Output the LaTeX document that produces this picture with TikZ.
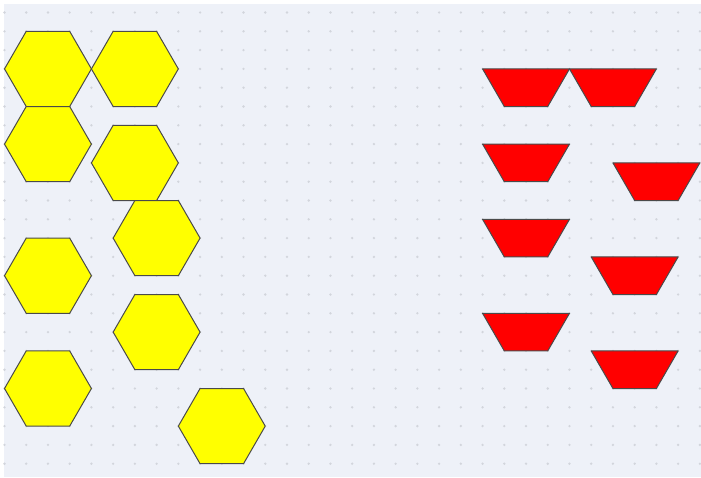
\documentclass[tikz,border=0pt]{standalone}
\begin{document}
\begin{tikzpicture}[x=1pt,y=-1pt]
\definecolor{bgc}{HTML}{EEF1F8}
\definecolor{dotc}{HTML}{D2D5DC}
\definecolor{edgec}{HTML}{4A4A4A}
\tikzset{
  hexa/.style={fill={rgb,255:red,255;green,255;blue,0}, draw=edgec, line width=1pt, line join=round},
  trap/.style={fill={rgb,255:red,255;green,0;blue,0}, draw=edgec, line width=1pt, line join=round}
}
\useasboundingbox (0,0) rectangle (701,477);
\fill[white] (0,0) rectangle (701,477);
\fill[bgc] (4,4) rectangle (701,477);
\begin{scope}[shift={(4.5,12.5)}, x=21.73pt, y=-18.8pt]
  \foreach \i in {0,...,32} {
    \foreach \j in {0,...,24} {
      \fill[dotc] (\i,\j) circle[radius=1.3pt];
    }
  }
  % hexagons: center (i,j)
  \foreach \ci/\cj in {2/3, 6/3, 2/7, 6/8, 7/12, 2/14, 7/17, 2/20, 10/22} {
    \draw[hexa] (\ci-2,\cj) -- (\ci-1,\cj-2) -- (\ci+1,\cj-2) -- (\ci+2,\cj) -- (\ci+1,\cj+2) -- (\ci-1,\cj+2) -- cycle;
  }
  % trapezoids: top centre (i,j)
  \foreach \ci/\cj in {24/3, 28/3, 24/7, 30/8, 24/11, 29/13, 24/16, 29/18} {
    \draw[trap] (\ci-2,\cj) -- (\ci+2,\cj) -- (\ci+1,\cj+2) -- (\ci-1,\cj+2) -- cycle;
  }
\end{scope}
\end{tikzpicture}
\end{document}
